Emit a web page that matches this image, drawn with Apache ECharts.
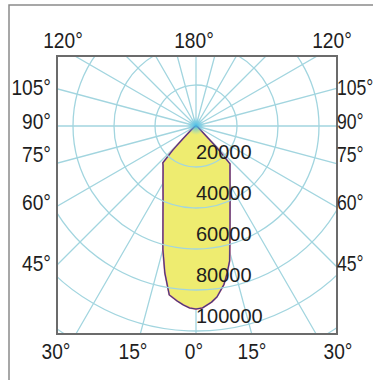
<!DOCTYPE html>
<html>
<head>
<meta charset="utf-8">
<script src="https://cdn.jsdelivr.net/npm/echarts@6/dist/echarts.min.js"></script>
<style>
html,body{margin:0;padding:0;background:#fff;}
#chart{width:373px;height:380px;}
</style>
</head>
<body>
<div id="chart"></div>
<script>
// Gamma angles (deg, negative = left of nadir) and luminous intensity (cd)
const gammaAngles = [-90,-60,-50,-46,-44,-42,-40,-35,-30,-25,-20,-15,-12,-9,-6,-4,-2,0,2,5,7,10,12,14,17,20,25,30,35,40,42,44,46,50,60,90];
const intensity   = [0,1000,3000,8800,16100,24200,25000,28000,32200,38000,47100,62400,73200,83400,86000,87500,88800,89300,88800,86300,84000,78500,73200,67800,56700,48500,39300,33200,28900,25800,24800,14000,6000,2500,1000,0];
const radiusTicks = [20000,40000,60000,80000,100000];
const topLabels = ['120°','180°','120°'];
const sideLabels = ['105°','90°','75°','60°','45°'];
const bottomLabels = ['30°','15°','0°','15°','30°'];

const FONT = "'Liberation Sans',Arial,sans-serif";
const gridColor = '#a2d5df';

const curve = gammaAngles.map((g, i) => [intensity[i], g < 0 ? -g : (g === 0 ? 0 : 360 - g)]);

const chart = echarts.init(document.getElementById('chart'), null, {renderer: 'svg'});

const box = {x: 57, y: 56, w: 280, h: 278};
const graphics = [
  {type:'rect', z:100, shape:{x:0,y:0,width:373,height:box.y}, style:{fill:'#fff'}},
  {type:'rect', z:100, shape:{x:0,y:box.y+box.h,width:373,height:380-box.y-box.h}, style:{fill:'#fff'}},
  {type:'rect', z:100, shape:{x:0,y:box.y,width:box.x,height:box.h}, style:{fill:'#fff'}},
  {type:'rect', z:100, shape:{x:box.x+box.w,y:box.y,width:373-box.x-box.w,height:box.h}, style:{fill:'#fff'}},
  {type:'rect', z:101, shape:{x:box.x,y:box.y,width:box.w,height:box.h}, style:{fill:null, stroke:'#6b6b6b', lineWidth:2}},
  {type:'rect', z:101, shape:{x:9,y:5,width:380,height:400}, style:{fill:null, stroke:'#8a8a8a', lineWidth:1.5}},
  {type:'circle', z:5, shape:{cx:196, cy:126, r:9}, style:{fill:{type:'radial',x:0.5,y:0.5,r:0.5,colorStops:[{offset:0,color:'rgba(60,185,230,0.95)'},{offset:1,color:'rgba(120,210,235,0)'}]}}}
];
function label(t, x, y, align, sx) {
  return {type:'text', z:110, x:x, y:y, scaleX:sx, style:{text:t, x:0, y:0, textAlign:align, textVerticalAlign:'middle', font:'22px '+FONT, fill:'#1e1e1e'}};
}
const tx = [63,194,332];
topLabels.forEach((t,i)=>graphics.push(label(t, tx[i], 40, 'center', 0.87)));
const sy = [87,121,154,202,263];
sideLabels.forEach((t,i)=>{
  graphics.push(label(t, 51, sy[i], 'right', 0.87));
  graphics.push(label(t, 337, sy[i], 'left', 0.8));
});
const bx = [56,133,194,252,338];
bottomLabels.forEach((t,i)=>graphics.push(label(t, bx[i], 351, 'center', 0.87)));

const lineSeries = (color, width, area, z) => ({
  type: 'line', coordinateSystem: 'polar', data: curve, showSymbol: false, smooth: false,
  lineStyle: {color: color, width: width},
  areaStyle: area ? {color: '#eeec70', opacity: 1} : undefined,
  z: z, silent: true
});

chart.setOption({
  animation: false,
  backgroundColor: '#fff',
  polar: {center: [196, 126], radius: 246},
  angleAxis: {
    type: 'value', min: 0, max: 360, interval: 15, startAngle: -90, clockwise: true,
    axisLine: {show: false}, axisTick: {show: false}, axisLabel: {show: false},
    splitLine: {show: true, lineStyle: {color: gridColor, width: 1.3}}
  },
  radiusAxis: {
    type: 'value', min: 0, max: 120000, interval: 20000,
    axisLine: {show: false}, axisTick: {show: false},
    splitLine: {show: true, lineStyle: {color: gridColor, width: 1.3}},
    axisLabel: {
      show: true, margin: 0, align: 'left', verticalAlign: 'bottom', padding: [0,0,5,0],
      fontFamily: FONT, fontSize: 20, color: '#1e1e1e',
      formatter: v => radiusTicks.indexOf(v) >= 0 ? String(v) : ''
    },
    z: 50
  },
  series: [
    lineSeries('#d8708a', 1.8, true, 3),
    lineSeries('#3f3a7e', 1.1, false, 4)
  ],
  graphic: graphics
});
</script>
</body>
</html>
